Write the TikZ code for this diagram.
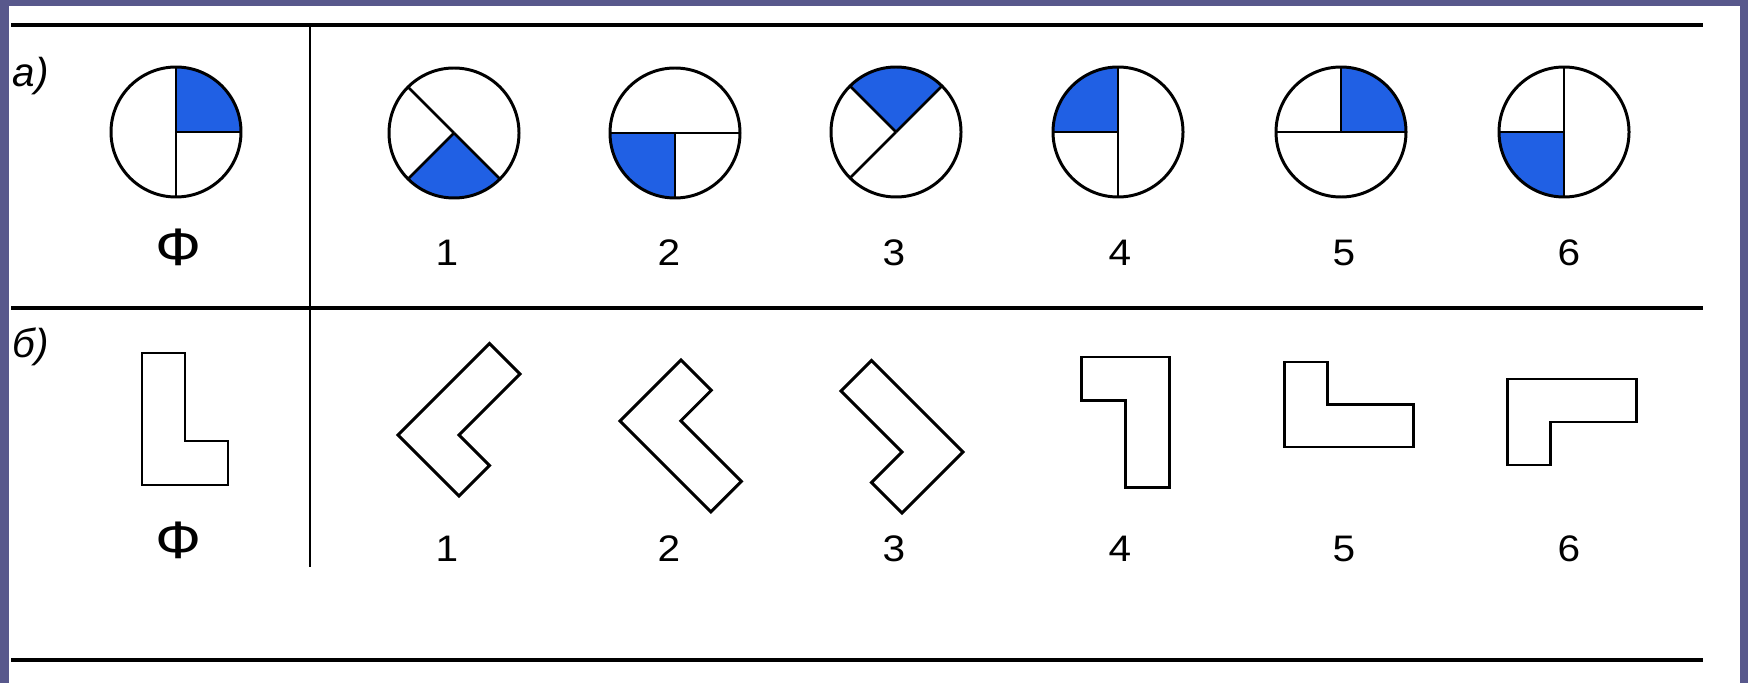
\documentclass[tikz,border=0pt]{standalone}
\usepackage{fontspec}
\setmainfont{Liberation Sans}
\definecolor{slidebg}{RGB}{88,88,140}
\definecolor{fillblue}{RGB}{32,96,228}
\newcommand\pie[5]{%
  \coordinate (#1) at (#2,#3);
  \fill[sector] (#1) -- ++(#4:65) arc[start angle=#4, delta angle=90, radius=65] -- cycle;
  \draw[disc] (#1) circle[radius=65];
  \foreach \a in {#5} \draw[radial] (#1) -- ++(\a:65);
}
\newcommand\Lpiece[3]{%
  \begin{scope}[shift={#1}, x={#2}, y={#3}]
    \draw[shapeline] (0,0) -- (2,0) -- (2,1) -- (1,1) -- (1,3) -- (0,3) -- cycle;
  \end{scope}%
}
\newcommand\digit[1]{\scalebox{1.1}[1]{#1}}
\newcommand\ef{\scalebox{1.15}[1]{Ф}}
\begin{document}
\begin{tikzpicture}[x=0.1mm,y=0.1mm,
  rule/.style={line width=0.95pt, black},
  divider/.style={line width=0.6pt, black},
  disc/.style={line width=0.85pt, black},
  radial/.style={line width=0.75pt, black},
  sector/.style={fill=fillblue},
  shapeline/.style={line width=0.85pt, black, line join=miter},
  lbl/.style={inner sep=0pt, anchor=base, font=\fontsize{10.5}{12}\selectfont},
  phi/.style={inner sep=0pt, font=\fontsize{15}{16}\selectfont},
  part/.style={inner sep=0pt, anchor=base west, font=\fontsize{11.5}{13}\selectfont\itshape}]
\useasboundingbox (0,0) rectangle (1748,683);
\fill[slidebg] (0,0) rectangle (1748,683);
\fill[white] (9,0) rectangle (1740,677);

% rules
\coordinate (t0) at (11,658); \coordinate (t1) at (1703,658);
\coordinate (m0) at (11,375); \coordinate (m1) at (1703,375);
\coordinate (b0) at (11,23);  \coordinate (b1) at (1703,23);
\coordinate (v0) at (310,658); \coordinate (v1) at (310,116);
\draw[rule] (t0) -- (t1);
\draw[rule] (m0) -- (m1);
\draw[rule] (b0) -- (b1);
\draw[divider] (v0) -- (v1);

% part labels
\node[part] (la) at (12,596) {а)};
\node[part] (lb) at (12,326) {б)};

% row a: circles
\pie{cF}{176}{551}{0}{0,90,270}
\pie{c1}{454}{550}{225}{135,225,315}
\pie{c2}{675}{550}{180}{0,180,270}
\pie{c3}{896}{551}{45}{45,135,225}
\pie{c4}{1118}{551}{90}{90,180,270}
\pie{c5}{1341}{551}{0}{0,90,180}
\pie{c6}{1564}{551}{180}{90,180,270}

\node[phi] (aF) at (179,436) {\ef};
\node[lbl] (a1) at (447,418) {\digit{1}};
\node[lbl] (a2) at (669,418) {\digit{2}};
\node[lbl] (a3) at (894,418) {\digit{3}};
\node[lbl] (a4) at (1120,418) {\digit{4}};
\node[lbl] (a5) at (1344,418) {\digit{5}};
\node[lbl] (a6) at (1569,418) {\digit{6}};

% row b: L pieces
\Lpiece{(142,198)}{(4.3mm,0mm)}{(0mm,4.4mm)}
\Lpiece{(398,248)}{(3.05mm,-3.05mm)}{(3.05mm,3.05mm)}
\Lpiece{(620,262)}{(3.05mm,3.05mm)}{(3.03mm,-3.03mm)}
\Lpiece{(963,231)}{(-3.05mm,-3.05mm)}{(-3.05mm,3.05mm)}
\Lpiece{(1169,326)}{(-4.4mm,0mm)}{(0mm,-4.35mm)}
\Lpiece{(1284,236)}{(0mm,4.25mm)}{(4.33mm,0mm)}
\Lpiece{(1507,304)}{(0mm,-4.3mm)}{(4.33mm,0mm)}

\node[phi] (bF) at (179,143) {\ef};
\node[lbl] (b1n) at (447,122) {\digit{1}};
\node[lbl] (b2n) at (669,122) {\digit{2}};
\node[lbl] (b3n) at (894,122) {\digit{3}};
\node[lbl] (b4n) at (1120,122) {\digit{4}};
\node[lbl] (b5n) at (1344,122) {\digit{5}};
\node[lbl] (b6n) at (1569,122) {\digit{6}};
\end{tikzpicture}
\end{document}
